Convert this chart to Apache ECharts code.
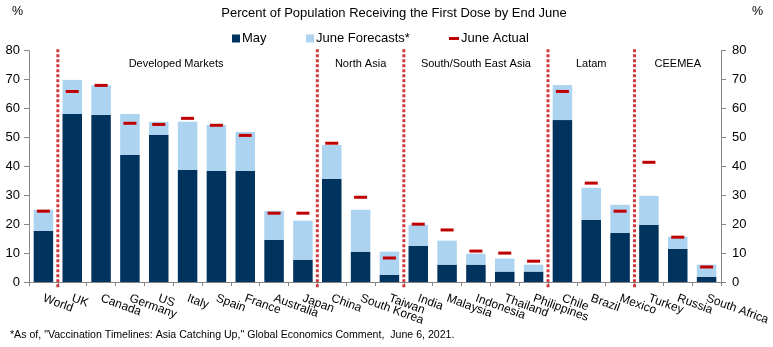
<!DOCTYPE html>
<html><head><meta charset="utf-8">
<script src="https://cdn.jsdelivr.net/npm/echarts@6/dist/echarts.min.js"></script>
<style>html,body{margin:0;padding:0;background:#fff}#c{width:773px;height:347px}</style>
</head><body><div id="c"></div>
<script>
const categories = ['World','UK','Canada','Germany','US','Italy','Spain','France','Australia','Japan','China','South Korea','Taiwan','India','Malaysia','Indonesia','Thailand','Philippines','Chile','Brazil','Mexico','Turkey','Russia','South Africa'];
const mayValues = [17.7,58.1,57.8,44.0,50.9,38.8,38.4,38.4,14.6,7.7,35.7,10.5,2.5,12.5,6.0,6.0,3.6,3.6,56.0,21.5,17.0,19.8,11.5,1.8];
const juneForecastAdded = [7.3,11.8,10.3,14.1,4.5,16.6,15.9,13.5,10.0,13.5,11.7,14.5,8.0,7.3,8.3,3.8,4.5,2.4,12.1,11.1,9.7,10.0,4.2,4.2];
const juneActual = [24.5,65.9,68.0,54.9,54.5,56.6,54.2,50.7,23.8,23.8,48.0,29.3,8.3,20.0,18.0,10.7,10.0,7.2,65.9,34.2,24.5,41.4,15.5,5.2];
const separatorPositions = [1,10,13,18,21];
const groupNames = ['Developed Markets','North Asia','South/South East Asia','Latam','CEEMEA'];
const groupLabelPositions = [5.1,11.5,15.5,19.5,22.5];
const groupLabelLevel = 75.4;
const yTicks = {min:0, max:80, interval:10};

const FONT = 'Liberation Sans, Arial, sans-serif';
const chart = echarts.init(document.getElementById('c'), null, {renderer:'canvas'});
const axisColor = '#868686';
const yAxisCommon = {
  type:'value', min:yTicks.min, max:yTicks.max, interval:yTicks.interval,
  splitLine:{show:false},
  axisLine:{show:true, lineStyle:{color:axisColor}},
  axisTick:{show:true, length:5, lineStyle:{color:axisColor}},
  axisLabel:{color:'#000', fontSize:13, fontFamily:FONT}
};
const legendText = {fontSize:13, color:'#000', fontFamily:FONT, padding:[0,0,0,-3]};
chart.setOption({
  animation:false,
  backgroundColor:'#fff',
  textStyle:{fontFamily:FONT},
  title:{text:'Percent of Population Receiving the First Dose by End June', left:389, textAlign:'center', top:2,
    textStyle:{fontSize:13, fontWeight:'normal', color:'#000', fontFamily:FONT}},
  legend:[
    {data:[{name:'May', icon:'rect'}], left:227, top:27, itemWidth:8, itemHeight:8, textStyle:legendText},
    {data:[{name:'June Forecasts*', icon:'rect'}], left:301, top:27, itemWidth:8, itemHeight:8, textStyle:legendText},
    {data:[{name:'June Actual', icon:'rect'}], left:444, top:27, itemWidth:10, itemHeight:3, textStyle:legendText}
  ],
  grid:{left:29, right:52, top:50.7, bottom:65, containLabel:false},
  xAxis:[
    {type:'category', data:categories, boundaryGap:true,
     axisLine:{lineStyle:{color:axisColor}},
     axisTick:{show:true, length:4, lineStyle:{color:axisColor}},
     axisLabel:{interval:0, rotate:-20, margin:16, color:'#000', fontSize:12, fontFamily:FONT}},
    {type:'value', min:0, max:categories.length, show:false}
  ],
  yAxis:[
    Object.assign({}, yAxisCommon, {position:'left', axisLabel:Object.assign({}, yAxisCommon.axisLabel, {margin:9})}),
    Object.assign({}, yAxisCommon, {position:'right', axisLabel:Object.assign({}, yAxisCommon.axisLabel, {margin:11})})
  ],
  series:[
    {name:'May', type:'bar', stack:'a', data:mayValues, barWidth:19.5, itemStyle:{color:'#00345f'}, z:2},
    {name:'June Forecasts*', type:'bar', stack:'a', data:juneForecastAdded, barWidth:19.5, itemStyle:{color:'#acd3f0'}, z:2},
    {name:'June Actual', type:'scatter', data:juneActual, symbol:'rect', symbolSize:[13,3], itemStyle:{color:'#c00000', opacity:1}, z:5},
    {name:'separators', type:'custom', xAxisIndex:1, yAxisIndex:0, data:separatorPositions.map(v=>[v]), clip:false, z:4,
     renderItem:function(params, api){
       const top = api.coord([api.value(0), yTicks.max]);
       const bot = api.coord([api.value(0), yTicks.min]);
       return {type:'line', shape:{x1:top[0], y1:top[1]-1.5, x2:top[0], y2:bot[1]+7},
         style:{stroke:'#cd3b3e', lineWidth:3, lineDash:[3,2]}};
     }},
    {name:'groups', type:'custom', xAxisIndex:1, yAxisIndex:0, data:groupLabelPositions.map((v,i)=>[v, groupLabelLevel, i]), clip:false, z:6,
     renderItem:function(params, api){
       const p = api.coord([api.value(0), api.value(1)]);
       return {type:'text', x:p[0], y:p[1], style:{text:groupNames[api.value(2)], align:'center', verticalAlign:'middle', fontSize:11, fontFamily:FONT, fill:'#000'}};
     }}
  ],
  graphic:[
    {type:'text', left:12, top:5, style:{text:'%', fontSize:12.5, fontFamily:FONT, fill:'#000'}},
    {type:'text', left:752, top:5, style:{text:'%', fontSize:12.5, fontFamily:FONT, fill:'#000'}},
    {type:'text', left:10, top:330, style:{text:'*As of, "Vaccination Timelines: Asia Catching Up," Global Economics Comment,  June 6, 2021.', fontSize:10.6, fontFamily:FONT, fill:'#000'}}
  ]
});
</script></body></html>
